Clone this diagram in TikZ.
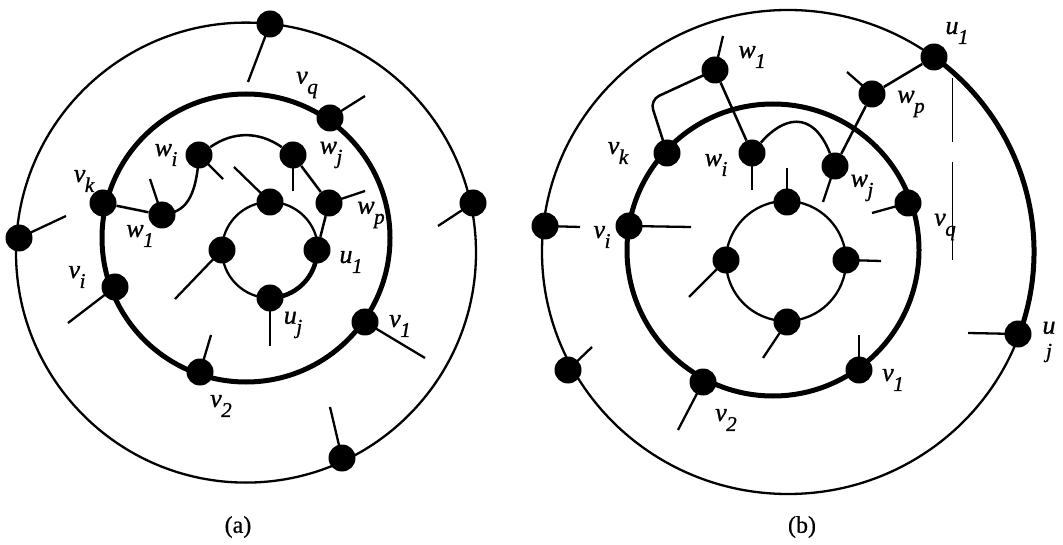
\documentclass[tikz,border=0pt]{standalone}
\usepackage{fontspec}
\setmainfont{Liberation Serif}
\newcommand\lbl[2]{{\fontsize{26}{30}\selectfont\itshape\addfontfeature{FakeBold=1} #1}\kern-0.5pt\raisebox{-10pt}{\fontsize{21}{24}\selectfont\itshape\addfontfeature{FakeBold=1} #2}}
\newcommand\captxt[1]{{\fontsize{24}{28}\selectfont\addfontfeature{FakeBold=0.6} #1}}
\begin{document}
\begin{tikzpicture}[x=1pt,y=1pt,
  vdot/.style={circle,fill=black,draw=none,inner sep=0pt,minimum size=27pt},
  ring/.style={line width=2.3pt},
  bold/.style={line width=5pt},
  stub/.style={line width=2.3pt},
  wedge/.style={line width=2.5pt},
  lab/.style={inner sep=0pt},
  captionlab/.style={inner sep=0pt}]
\useasboundingbox (0,0) rectangle (1063,-545);
\fill[white] (0,0) rectangle (1063,-545);

% ================= (a) =================
\draw[ring] (246,-252.6) circle[radius=230];
\draw[bold] (246,-238) circle[radius=144];
\draw[ring] (270,-250) circle[radius=48];

% outer dots
\node[vdot] (ao1) at (270,-24) {};
\node[vdot] (ao2) at (19,-238) {};
\node[vdot] (ao3) at (473,-203) {};
\node[vdot] (ao4) at (342,-458) {};
% middle dots
\node[vdot] (avq) at (330,-118) {};
\node[vdot] (avk) at (103,-203) {};
\node[vdot] (avi) at (115,-287) {};
\node[vdot] (av2) at (200,-372) {};
\node[vdot] (av1) at (365,-322) {};
% inner dots
\node[vdot] (ait) at (270,-202) {};
\node[vdot] (ail) at (222,-250) {};
\node[vdot] (au1) at (317,-250) {};
\node[vdot] (auj) at (270,-298) {};
% w dots
\node[vdot] (awi) at (199,-155) {};
\node[vdot] (awj) at (293,-155) {};
\node[vdot] (awp) at (329,-203) {};
\node[vdot] (aw1) at (162,-215) {};

% stub ends
\coordinate (ao1s) at (248,-82);
\coordinate (ao2s) at (66,-216);
\coordinate (ao3s) at (438,-226);
\coordinate (ao4s) at (330,-407);
\coordinate (avqs) at (365,-96);
\coordinate (avis) at (68,-323);
\coordinate (av2s) at (211,-335);
\coordinate (av1s) at (425,-358);
\coordinate (aits) at (234,-167);
\coordinate (ails) at (175,-299);
\coordinate (aujs) at (270,-346);
\coordinate (awis) at (223,-179);
\coordinate (awjs) at (293,-191);
\coordinate (awps) at (365,-191);
\coordinate (aw1s) at (150,-179);

\foreach \n in {ao1,ao2,ao3,ao4,avq,avi,av2,av1,ait,ail,auj,awi,awj,awp,aw1}
  \draw[stub] (\n.center) -- (\n s);

% edges
\draw[wedge] (avk) -- (aw1);
\draw[wedge] (aw1.center) .. controls (185,-212) and (196,-200) .. (awi.center);
\draw[wedge] (awi) to[bend left=35] (awj);
\draw[wedge] (awj) -- (awp);
\draw[wedge] (awp) -- (au1);
\draw[line width=4.5pt] (au1.center) arc[start angle=0,end angle=-90,radius=48];

% labels
\node[lab] (lavq) at (307,-85) {\lbl{v}{q}};
\node[lab] (lawi) at (166,-155) {\lbl{w}{i}};
\node[lab] (lawj) at (331,-155) {\lbl{w}{j}};
\node[lab] (lavk) at (84,-181) {\lbl{v}{k}};
\node[lab] (lawp) at (371,-215) {\lbl{w}{p}};
\node[lab] (law1) at (140,-236) {\lbl{w}{1}};
\node[lab] (lau1) at (351,-262) {\lbl{u}{1}};
\node[lab] (lavi) at (77,-277) {\lbl{v}{i}};
\node[lab] (lauj) at (293,-325) {\lbl{u}{j}};
\node[lab] (lav1) at (400,-326) {\lbl{v}{1}};
\node[lab] (lav2) at (221,-406) {\lbl{v}{2}};
\node[captionlab] (capa) at (238,-527) {\captxt{(a)}};

% ================= (b) =================
\draw[ring] (788,-252) ellipse[x radius=246,y radius=242];
\draw[bold] (773,-250) circle[radius=146];
\draw[ring] (786,-261) circle[radius=60];

% outer dots
\node[vdot] (bu1) at (934,-57) {};
\node[vdot] (buj) at (1018,-334) {};
\node[vdot] (bo1) at (545,-226) {};
\node[vdot] (bo2) at (568,-370) {};
% middle dots
\node[vdot] (bvk) at (667,-153) {};
\node[vdot] (bvi) at (629,-226) {};
\node[vdot] (bv2) at (703,-382) {};
\node[vdot] (bv1) at (859,-370) {};
\node[vdot] (bvq) at (908,-203) {};
% inner dots
\node[vdot] (bit) at (787,-202) {};
\node[vdot] (bil) at (726,-260) {};
\node[vdot] (bir) at (846,-260) {};
\node[vdot] (bib) at (787,-322) {};
% w dots
\node[vdot] (bw1) at (715,-70) {};
\node[vdot] (bwi) at (752,-153) {};
\node[vdot] (bwj) at (835,-166) {};
\node[vdot] (bwp) at (872,-94) {};

% stub ends
\coordinate (bujs) at (968,-333);
\coordinate (bo1s) at (580,-227);
\coordinate (bo2s) at (592,-347);
\coordinate (bvis) at (691,-227);
\coordinate (bv2s) at (678,-430);
\coordinate (bv1s) at (859,-335);
\coordinate (bvqs) at (872,-213);
\coordinate (bits) at (787,-168);
\coordinate (bils) at (689,-297);
\coordinate (birs) at (881,-261);
\coordinate (bibs) at (763,-358);
\coordinate (bw1s) at (723,-36);
\coordinate (bwis) at (752,-190);
\coordinate (bwjs) at (823,-202);
\coordinate (bwps) at (847,-72);

\foreach \n in {buj,bo1,bo2,bvi,bv2,bv1,bvq,bit,bil,bir,bib,bw1,bwi,bwj,bwp}
  \draw[stub] (\n.center) -- (\n s);

% thick outer arc u1 -> uj
\draw[bold] (bu1.center) arc[start angle=53.6,end angle=-19.8,x radius=246,y radius=242];

% edges
\coordinate (bcorner) at (650,-100);
\draw[wedge,rounded corners=10pt] (bvk.center) -- (bcorner) -- (bw1.center);
\draw[wedge] (bw1) -- (bwi);
\draw[wedge] (bwi) .. controls (782,-118) and (812,-108) .. (bwj);
\draw[wedge] (bwj) -- (bwp);
\draw[wedge] (bwp) -- (bu1);

% thin vertical line
\draw[line width=1pt] (952,-78) -- (952,-142);
\draw[line width=1pt] (952,-162) -- (952,-260);

% labels
\node[lab] (lbw1) at (752,-57) {\lbl{w}{1}};
\node[lab] (lbu1) at (957,-33) {\lbl{u}{1}};
\node[lab] (lbwp) at (911,-104) {\lbl{w}{p}};
\node[lab] (lbvk) at (618,-153) {\lbl{v}{k}};
\node[lab] (lbwi) at (716,-165) {\lbl{w}{i}};
\node[lab] (lbwj) at (862,-188) {\lbl{w}{j}};
\node[lab] (lbvi) at (602,-237) {\lbl{v}{i}};
\node[lab] (lbvq) at (945,-227) {\lbl{v}{q}};
\node[lab,align=center,font=\fontsize{26}{24}\selectfont\itshape\addfontfeature{FakeBold=1}] (lbuj) at (1049,-342) {u\\{\fontsize{21}{24}\selectfont j}};
\node[lab] (lbv1) at (893,-380) {\lbl{v}{1}};
\node[lab] (lbv2) at (726,-420) {\lbl{v}{2}};
\node[captionlab] (capb) at (802,-527) {\captxt{(b)}};
\end{tikzpicture}
\end{document}
